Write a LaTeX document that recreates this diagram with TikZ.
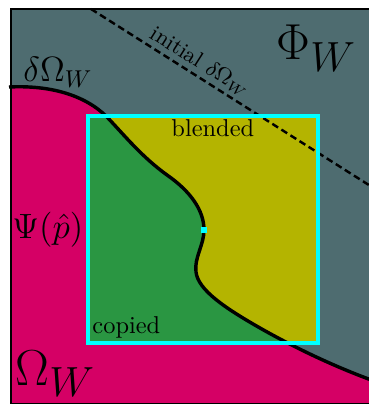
\documentclass[tikz,border=0pt]{standalone}
\usepackage{amsmath}
\definecolor{tealgray}{RGB}{78,108,112}
\definecolor{magen}{RGB}{213,0,101}
\definecolor{grn}{RGB}{42,150,66}
\definecolor{olive}{RGB}{180,180,0}
\definecolor{cyn}{RGB}{0,255,255}
\newcommand\bdrypath{(9,87) .. controls (50,85) and (85,95) .. (107,117)
  .. controls (125,136) and (142,157) .. (167,175)
  .. controls (190,191) and (204,210) .. (204,230)
  .. controls (204,245) and (194,258) .. (196,272)
  .. controls (198,290) and (225,308) .. (260,328)
  .. controls (290,345) and (330,365) .. (374,381)}
\tikzset{
  lbl/.style={inner sep=0pt, anchor=base west},
  bdry/.style={line width=1.4pt, black},
  cbox/.style={draw=cyn, line width=1.35pt},
}
\begin{document}
\begin{tikzpicture}[x=0.41pt,y=-0.41pt]
\useasboundingbox (0,0) rectangle (368,404);
% background regions
\fill[tealgray] (11,9) rectangle (374,405);
\fill[magen] \bdrypath -- (374,405) -- (11,405) -- (11,87) -- cycle;
% box interior
\begin{scope}
  \clip (88,116) rectangle (318,343);
  \fill[olive] (88,116) rectangle (318,343);
  \fill[grn] \bdrypath -- (374,405) -- (11,405) -- (11,87) -- cycle;
\end{scope}
% frame
\draw[black, line width=0.5pt] (11,9) rectangle (374,403.5);
% boundary curve
\draw[bdry] \bdrypath;
% initial boundary (dashed)
\coordinate (d1) at (91,9);
\coordinate (d2) at (372,187);
\draw[black, line width=1pt, dash pattern=on 2.8pt off 1.6pt] (d1) -- (d2);
% box
\draw[cbox] (88,116) rectangle (318,343);
\fill[cyn] (201,227) rectangle (207,233);
% labels
\node[lbl, font=\Large] (dom) at (23,82) {$\delta\Omega_W$};
\node[lbl, font=\huge] (phi) at (276,60) {$\Phi_{\mbox{\LARGE$W$}}$};
\node[lbl, font=\huge] (om) at (15,385) {$\Omega_{\mbox{\LARGE$W$}}$};
\node[lbl, font=\Large] (psi) at (12,238) {$\Psi(\hat{p})$};
\node[lbl] (bl) at (171,137) {blended};
\node[lbl] (cp) at (92,333) {copied};
\node[inner sep=0pt, rotate=-32.4, font=\small] (ini) at (200,62) {initial $\delta\Omega_W$};
\end{tikzpicture}
\end{document}
